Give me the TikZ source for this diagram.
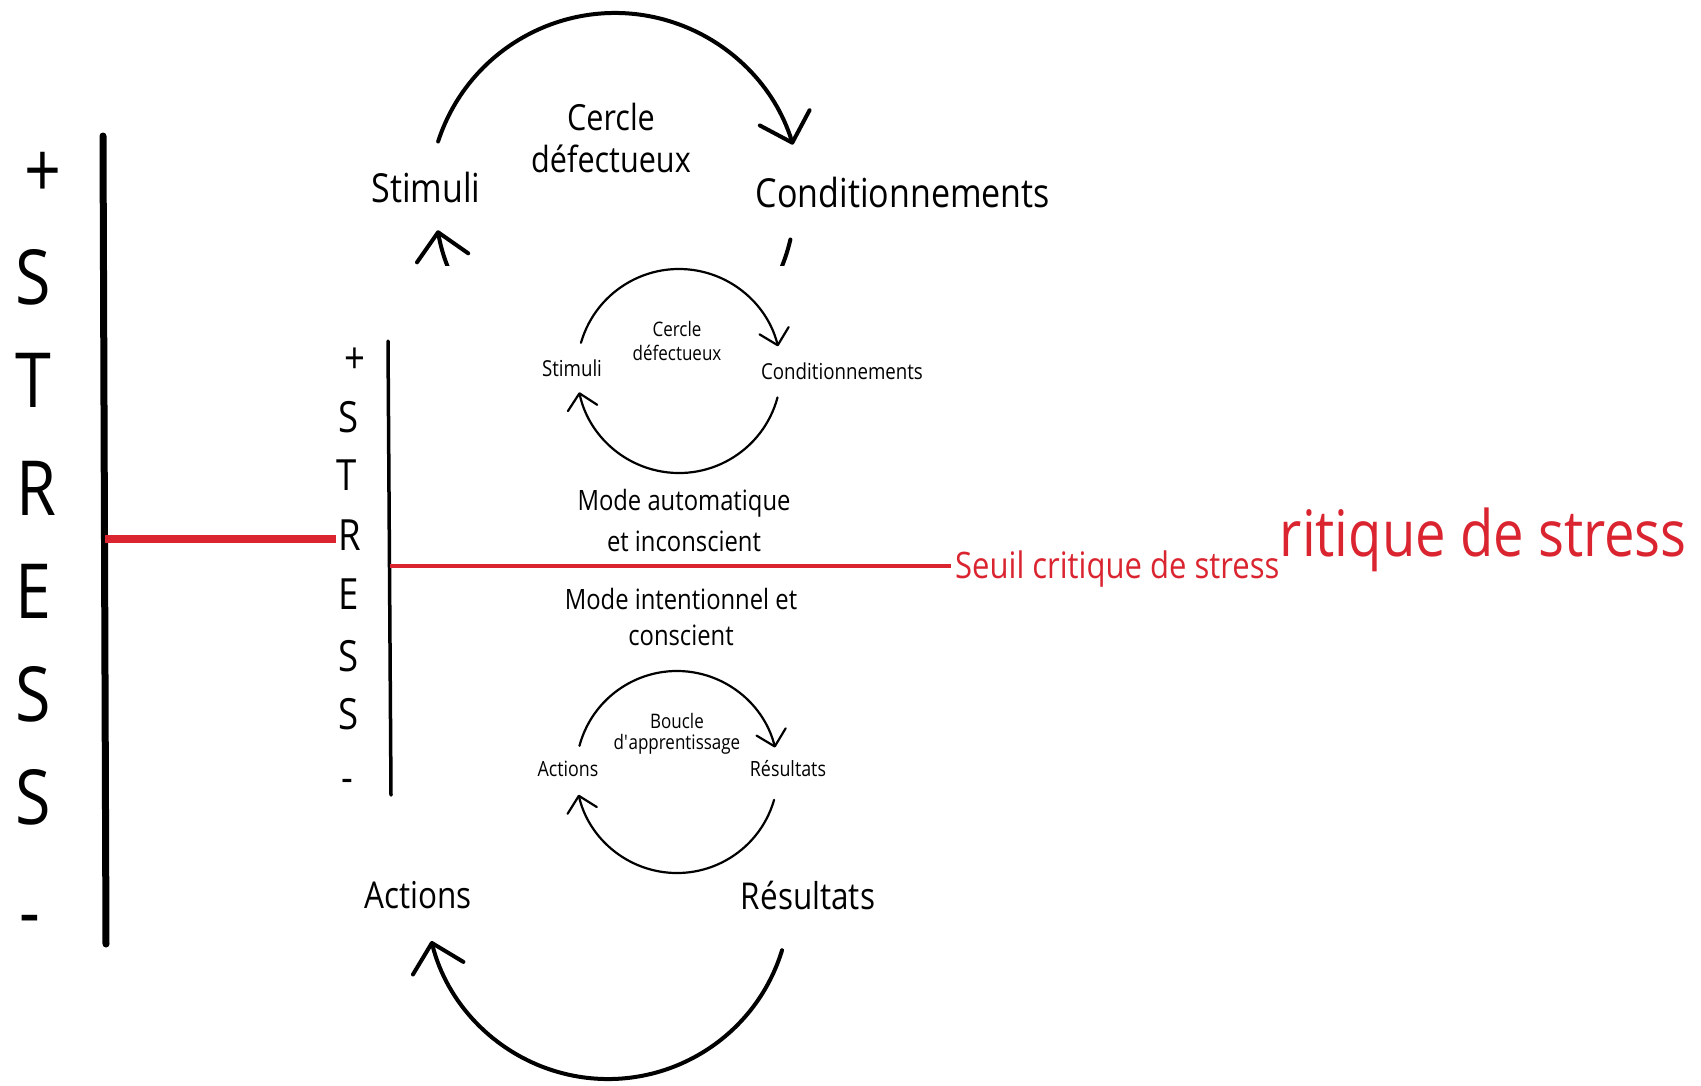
\documentclass[tikz,border=0pt]{standalone}
\usepackage{fontspec}
\setmainfont[FakeStretch=0.85]{Open Sans}
\usetikzlibrary{arrows.meta,calc}
\definecolor{seuilred}{RGB}{218,37,48}

\tikzset{
  bigletter/.style={inner sep=0pt,font=\fontsize{76}{80}\selectfont},
  smallletter/.style={inner sep=0pt,font=\fontsize{43}{46}\selectfont},
  biglabel/.style={inner sep=0pt,font=\fontsize{40}{48}\selectfont},
  lowlabel/.style={inner sep=0pt,font=\fontsize{37}{44}\selectfont},
  looptext/.style={inner sep=0pt,font=\fontsize{36}{42}\selectfont},
  smalllabel/.style={inner sep=0pt,font=\fontsize{22}{26}\selectfont},
  smalllow/.style={inner sep=0pt,font=\fontsize{21}{25}\selectfont},
  smallloop/.style={inner sep=0pt,font=\fontsize{20}{24}\selectfont},
  modetext/.style={inner sep=0pt,font=\fontsize{28}{34}\selectfont},
  bigseuil/.style={inner sep=0pt,text=seuilred,font=\fontsize{64}{70}\selectfont},
  seuiltext/.style={inner sep=4pt,text=seuilred,font=\fontsize{36.5}{40}\selectfont},
  bigarc/.style={line width=4pt,line cap=round,-{Straight Barb[length=26pt,width=52pt,round]}},
  smallarc/.style={line width=2.2pt,line cap=round,-{Straight Barb[length=15pt,width=30pt,round]}},
  bigaxis/.style={line width=7pt,line cap=round},
  smallaxis/.style={line width=3.5pt,line cap=round},
  redthick/.style={seuilred,line width=8pt},
  redthin/.style={seuilred,line width=4pt}
}

\begin{document}
\begin{tikzpicture}[x=1pt,y=-1pt]
\useasboundingbox (0,0) rectangle (1701,1085);

% outer picture
\draw[bigaxis] (103,136) -- (106,944);
\foreach \ch/\xx/\yy [count=\i] in {+/43/175,S/33/277,T/33/380,R/36/488,E/33/591,S/33/694,S/33/797,-/30/927}
  \node[bigletter] (bs\i) at (\xx,\yy) {\ch};

\node[biglabel] (stimbig) at (426,187) {Stimuli};
\node[biglabel] (condbig) at (903,192) {Conditionnements};
\node[looptext] (cerclebig) at (611,117) {Cercle};
\node[looptext] (defbig) at (611,159) {défectueux};
\node[lowlabel] (actbig) at (418,895) {Actions};
\node[lowlabel] (resbig) at (808,895) {Résultats};

\coordinate (topc) at (615,199);
\coordinate (lowc) at (608,897);
\draw[bigarc] ($(topc)+(-162:186)$) arc[start angle=-162,end angle=-17,radius=186];
\draw[bigarc] ($(topc)+(13:180)$) arc[start angle=13,end angle=170,radius=180];
\draw[bigarc] ($(lowc)+(17:182)$) arc[start angle=17,end angle=166,radius=182];

\coordinate (bigr) at (105,539);
\coordinate (bigrend) at (336,539);
\draw[redthick] (bigr) -- (bigrend);
\node[bigseuil,anchor=east] (seuilbig) at (1687,540) {ritique de stress};

% inner picture
\fill[white] (336,266) rectangle (1282,879);

\draw[smallaxis] (388,341) -- (391,795);
\foreach \ch/\xx/\yy [count=\i] in {+/355/361,S/349/417,T/347/475,R/350/535,E/349/594,S/349/656,S/349/714,-/347/786}
  \node[smallletter] (ss\i) at (\xx,\yy) {\ch};

\node[smalllabel] (stim) at (572,368) {Stimuli};
\node[smalllabel] (cond) at (842,371) {Conditionnements};
\node[smallloop] (cercle) at (677,329) {Cercle};
\node[smallloop] (def) at (677,353) {défectueux};

\coordinate (c1) at (679,371);
\draw[smallarc] ($(c1)+(-164:102)$) arc[start angle=-164,end angle=-14,radius=102];
\draw[smallarc] ($(c1)+(15:102)$) arc[start angle=15,end angle=168,radius=102];

\node[modetext] (auto1) at (684,503) {Mode automatique};
\node[modetext] (auto2) at (684,541) {et inconscient};
\node[modetext] (int1) at (681,599) {Mode intentionnel et};
\node[modetext] (int2) at (681,635) {conscient};

\coordinate (smallr) at (390,566);
\node[seuiltext,anchor=west] (seuil) at (951,569) {Seuil critique de stress};
\draw[redthin] (smallr) -- (seuil.west |- smallr);

\node[smalllow] (act) at (568,769) {Actions};
\node[smalllow] (res) at (788,769) {Résultats};
\node[smallloop] (boucle) at (677,721) {Boucle};
\node[smallloop] (appr) at (677,744) {d\textquotesingle apprentissage};

\coordinate (c2) at (677,772);
\draw[smallarc] ($(c2)+(-165:101)$) arc[start angle=-165,end angle=-14,radius=101];
\draw[smallarc] ($(c2)+(16:101)$) arc[start angle=16,end angle=167,radius=101];
\end{tikzpicture}
\end{document}
